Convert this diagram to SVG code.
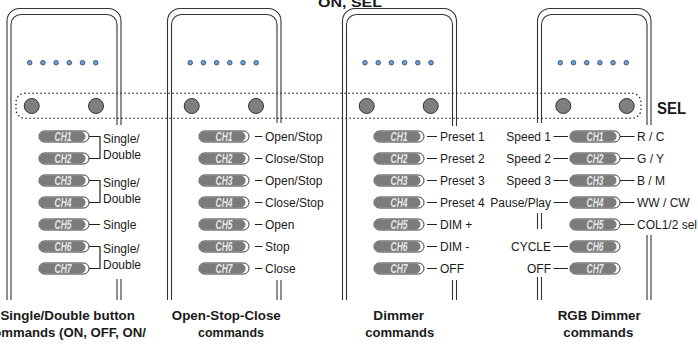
<svg xmlns="http://www.w3.org/2000/svg" xmlns:xlink="http://www.w3.org/1999/xlink" width="698" height="346" viewBox="0 0 698 346">
<style>
.bd{fill:none;stroke:#333;stroke-width:1.1}
.cn{fill:none;stroke:#222;stroke-width:1.2}
.lb{font-family:"Liberation Sans",Arial,sans-serif;font-size:12px;fill:#1a1a1a}
.ch{font-family:"Liberation Sans",Arial,sans-serif;font-size:12px;font-weight:bold;font-style:italic;fill:#e8e8e8;text-anchor:middle}
.tt{font-family:"Liberation Sans",Arial,sans-serif;font-size:13.5px;font-weight:bold;fill:#1a1a1a;text-anchor:middle}
.dot{fill:#6a9fd9;stroke:#2a4060;stroke-width:0.8}
.btn{fill:#7f7f7f;stroke:#333;stroke-width:1}
</style>
<defs>
<g id="pill">
<rect x="0" y="-5.5" width="50" height="11" rx="5.5" fill="#fff" stroke="#333" stroke-width="1"/>
<rect x="0.5" y="-5" width="46" height="10" rx="5" fill="#7b7b7b"/>
</g>
<g id="dots">
<circle class="dot" cx="-33" cy="0" r="2.3"/>
<circle class="dot" cx="-19.8" cy="0" r="2.3"/>
<circle class="dot" cx="-6.6" cy="0" r="2.3"/>
<circle class="dot" cx="6.6" cy="0" r="2.3"/>
<circle class="dot" cx="19.8" cy="0" r="2.3"/>
<circle class="dot" cx="33" cy="0" r="2.3"/>
</g>
</defs>
<rect width="698" height="346" fill="#fff"/>

<text x="318" y="6.5" font-family="Liberation Sans,Arial,sans-serif" font-size="13.5" font-weight="bold" fill="#1a1a1a" textLength="64" lengthAdjust="spacingAndGlyphs">ON, SEL</text>

<g id="panel1">
<path class="bd" d="M7,300V21A12.5,12.5 0 0 1 19.5,8.5H108.5A12.5,12.5 0 0 1 121,21V125M121,279V300"/>
<path class="bd" d="M11,300V24.5A10,10 0 0 1 21,14.5H107A10,10 0 0 1 117,24.5V125M117,279V300"/>
<use xlink:href="#dots" x="62.7" y="62.7"/>
<circle class="btn" cx="31.7" cy="106" r="7.5"/>
<circle class="btn" cx="96" cy="106" r="7.5"/>
<use xlink:href="#pill" x="39" y="136.5"/><use xlink:href="#pill" x="39" y="158.5"/><use xlink:href="#pill" x="39" y="180.5"/><use xlink:href="#pill" x="39" y="202.5"/><use xlink:href="#pill" x="39" y="224.5"/><use xlink:href="#pill" x="39" y="246.5"/><use xlink:href="#pill" x="39" y="268.5"/>
<text class="ch" x="63" y="140.7" textLength="17" lengthAdjust="spacingAndGlyphs">CH1</text>
<text class="ch" x="63" y="162.7" textLength="17" lengthAdjust="spacingAndGlyphs">CH2</text>
<text class="ch" x="63" y="184.7" textLength="17" lengthAdjust="spacingAndGlyphs">CH3</text>
<text class="ch" x="63" y="206.7" textLength="17" lengthAdjust="spacingAndGlyphs">CH4</text>
<text class="ch" x="63" y="228.7" textLength="17" lengthAdjust="spacingAndGlyphs">CH5</text>
<text class="ch" x="63" y="250.7" textLength="17" lengthAdjust="spacingAndGlyphs">CH6</text>
<text class="ch" x="63" y="272.7" textLength="17" lengthAdjust="spacingAndGlyphs">CH7</text>
<text class="lb" x="103" y="143">Single/</text>
<text class="lb" x="103" y="159">Double</text>
<text class="lb" x="103" y="187">Single/</text>
<text class="lb" x="103" y="203">Double</text>
<text class="lb" x="103" y="229">Single</text>
<text class="lb" x="103" y="253">Single/</text>
<text class="lb" x="103" y="269">Double</text>
<text class="tt" x="67.7" y="320" textLength="134.5" lengthAdjust="spacingAndGlyphs">Single/Double button</text>
<text class="tt" x="66" y="337" textLength="160" lengthAdjust="spacingAndGlyphs">commands (ON, OFF, ON/</text>
</g>

<g id="panel2">
<path class="bd" d="M167.5,300V21A12.5,12.5 0 0 1 180,8.5H268.5A12.5,12.5 0 0 1 281,21V123M281,280V300"/>
<path class="bd" d="M171.5,300V24.5A10,10 0 0 1 181.5,14.5H267A10,10 0 0 1 277,24.5V123M277,280V300"/>
<use xlink:href="#dots" x="223.2" y="62.7"/>
<circle class="btn" cx="191.7" cy="106" r="7.5"/>
<circle class="btn" cx="256" cy="106" r="7.5"/>
<use xlink:href="#pill" x="199" y="136.5"/><use xlink:href="#pill" x="199" y="158.5"/><use xlink:href="#pill" x="199" y="180.5"/><use xlink:href="#pill" x="199" y="202.5"/><use xlink:href="#pill" x="199" y="224.5"/><use xlink:href="#pill" x="199" y="246.5"/><use xlink:href="#pill" x="199" y="268.5"/>
<text class="ch" x="224" y="140.7" textLength="17" lengthAdjust="spacingAndGlyphs">CH1</text>
<text class="ch" x="224" y="162.7" textLength="17" lengthAdjust="spacingAndGlyphs">CH2</text>
<text class="ch" x="224" y="184.7" textLength="17" lengthAdjust="spacingAndGlyphs">CH3</text>
<text class="ch" x="224" y="206.7" textLength="17" lengthAdjust="spacingAndGlyphs">CH4</text>
<text class="ch" x="224" y="228.7" textLength="17" lengthAdjust="spacingAndGlyphs">CH5</text>
<text class="ch" x="224" y="250.7" textLength="17" lengthAdjust="spacingAndGlyphs">CH6</text>
<text class="ch" x="224" y="272.7" textLength="17" lengthAdjust="spacingAndGlyphs">CH7</text>
<text class="lb" x="265" y="141">Open/Stop</text>
<text class="lb" x="265" y="163">Close/Stop</text>
<text class="lb" x="265" y="185">Open/Stop</text>
<text class="lb" x="265" y="207">Close/Stop</text>
<text class="lb" x="265" y="229">Open</text>
<text class="lb" x="265" y="251">Stop</text>
<text class="lb" x="265" y="273">Close</text>
<text class="tt" x="226.3" y="320" textLength="109" lengthAdjust="spacingAndGlyphs">Open-Stop-Close</text>
<text class="tt" x="231" y="337" textLength="66" lengthAdjust="spacingAndGlyphs">commands</text>
</g>

<g id="panel3">
<path class="bd" d="M342.5,300V21A12.5,12.5 0 0 1 355,8.5H444A12.5,12.5 0 0 1 456.5,21V126M456.5,280V300"/>
<path class="bd" d="M346.5,300V24.5A10,10 0 0 1 356.5,14.5H442.5A10,10 0 0 1 452.5,24.5V126M452.5,280V300"/>
<use xlink:href="#dots" x="398" y="62.7"/>
<circle class="btn" cx="366.7" cy="106" r="7.5"/>
<circle class="btn" cx="430.7" cy="106" r="7.5"/>
<use xlink:href="#pill" x="374" y="136.5"/><use xlink:href="#pill" x="374" y="158.5"/><use xlink:href="#pill" x="374" y="180.5"/><use xlink:href="#pill" x="374" y="202.5"/><use xlink:href="#pill" x="374" y="224.5"/><use xlink:href="#pill" x="374" y="246.5"/><use xlink:href="#pill" x="374" y="268.5"/>
<text class="ch" x="399" y="140.7" textLength="17" lengthAdjust="spacingAndGlyphs">CH1</text>
<text class="ch" x="399" y="162.7" textLength="17" lengthAdjust="spacingAndGlyphs">CH2</text>
<text class="ch" x="399" y="184.7" textLength="17" lengthAdjust="spacingAndGlyphs">CH3</text>
<text class="ch" x="399" y="206.7" textLength="17" lengthAdjust="spacingAndGlyphs">CH4</text>
<text class="ch" x="399" y="228.7" textLength="17" lengthAdjust="spacingAndGlyphs">CH5</text>
<text class="ch" x="399" y="250.7" textLength="17" lengthAdjust="spacingAndGlyphs">CH6</text>
<text class="ch" x="399" y="272.7" textLength="17" lengthAdjust="spacingAndGlyphs">CH7</text>
<text class="lb" x="440" y="141">Preset 1</text>
<text class="lb" x="440" y="163">Preset 2</text>
<text class="lb" x="440" y="185">Preset 3</text>
<text class="lb" x="440" y="207">Preset 4</text>
<text class="lb" x="440" y="229">DIM +</text>
<text class="lb" x="440" y="251">DIM -</text>
<text class="lb" x="440" y="273">OFF</text>
<text class="tt" x="398.7" y="320" textLength="50.7" lengthAdjust="spacingAndGlyphs">Dimmer</text>
<text class="tt" x="399.7" y="337" textLength="69" lengthAdjust="spacingAndGlyphs">commands</text>
</g>

<g id="panel4">
<path class="bd" d="M537.5,123V21A12.5,12.5 0 0 1 550,8.5H638.5A12.5,12.5 0 0 1 651,21V125M651,235V300M537.5,213V229M537.5,277V300"/>
<path class="bd" d="M541.5,123V24.5A10,10 0 0 1 551.5,14.5H637A10,10 0 0 1 647,24.5V125M647,235V300M541.5,213V229M541.5,277V300"/>
<use xlink:href="#dots" x="593.3" y="62.7"/>
<circle class="btn" cx="563.3" cy="106" r="7.5"/>
<circle class="btn" cx="626.7" cy="106" r="7.5"/>
<use xlink:href="#pill" x="570" y="136.5"/><use xlink:href="#pill" x="570" y="158.5"/><use xlink:href="#pill" x="570" y="180.5"/><use xlink:href="#pill" x="570" y="202.5"/><use xlink:href="#pill" x="570" y="224.5"/><use xlink:href="#pill" x="570" y="246.5"/><use xlink:href="#pill" x="570" y="268.5"/>
<text class="ch" x="595" y="140.7" textLength="17" lengthAdjust="spacingAndGlyphs">CH1</text>
<text class="ch" x="595" y="162.7" textLength="17" lengthAdjust="spacingAndGlyphs">CH2</text>
<text class="ch" x="595" y="184.7" textLength="17" lengthAdjust="spacingAndGlyphs">CH3</text>
<text class="ch" x="595" y="206.7" textLength="17" lengthAdjust="spacingAndGlyphs">CH4</text>
<text class="ch" x="595" y="228.7" textLength="17" lengthAdjust="spacingAndGlyphs">CH5</text>
<text class="ch" x="595" y="250.7" textLength="17" lengthAdjust="spacingAndGlyphs">CH6</text>
<text class="ch" x="595" y="272.7" textLength="17" lengthAdjust="spacingAndGlyphs">CH7</text>
<text class="lb" x="637" y="141">R / C</text>
<text class="lb" x="637" y="163">G / Y</text>
<text class="lb" x="637" y="185">B / M</text>
<text class="lb" x="637" y="207">WW / CW</text>
<text class="lb" x="637" y="229">COL1/2 sel</text>
<text class="lb" x="551" y="141" text-anchor="end">Speed 1</text>
<text class="lb" x="551" y="163" text-anchor="end">Speed 2</text>
<text class="lb" x="551" y="185" text-anchor="end">Speed 3</text>
<text class="lb" x="551" y="207" text-anchor="end">Pause/Play</text>
<text class="lb" x="551" y="251" text-anchor="end">CYCLE</text>
<text class="lb" x="551" y="273" text-anchor="end">OFF</text>
<text class="tt" x="599.2" y="320" textLength="83" lengthAdjust="spacingAndGlyphs">RGB Dimmer</text>
<text class="tt" x="598.3" y="337" textLength="70" lengthAdjust="spacingAndGlyphs">commands</text>
</g>

<g id="sel">
<rect x="16" y="93.3" width="625" height="25" rx="9" fill="none" stroke="#222" stroke-width="1.6" stroke-linecap="round" stroke-dasharray="0 4"/>
<text x="657" y="114" font-family="Liberation Sans,Arial,sans-serif" font-size="16" font-weight="bold" fill="#1a1a1a" textLength="29" lengthAdjust="spacingAndGlyphs">SEL</text>
</g>

<g id="connectors">
<path class="cn" d="M89,136.5H100V158.5H89M89,180.5H100V202.5H89M89,224.5H100M89,246.5H100V268.5H89"/>
<path class="cn" d="M255,136.5h7.5M255,158.5h7.5M255,180.5h7.5M255,202.5h7.5M255,224.5h7.5M255,246.5h7.5M255,268.5h7.5"/>
<path class="cn" d="M427,136.5h10M427,158.5h10M427,180.5h10M427,202.5h10M427,224.5h10M427,246.5h10M427,268.5h10"/>
<path class="cn" d="M620,136.5h14.5M620,158.5h14.5M620,180.5h14.5M620,202.5h14.5M620,224.5h14.5"/>
<path class="cn" d="M553.5,136.5h14.5M553.5,158.5h14.5M553.5,180.5h14.5M553.5,202.5h14.5M553.5,246.5h14.5M553.5,268.5h14.5"/>
</g>
</svg>
